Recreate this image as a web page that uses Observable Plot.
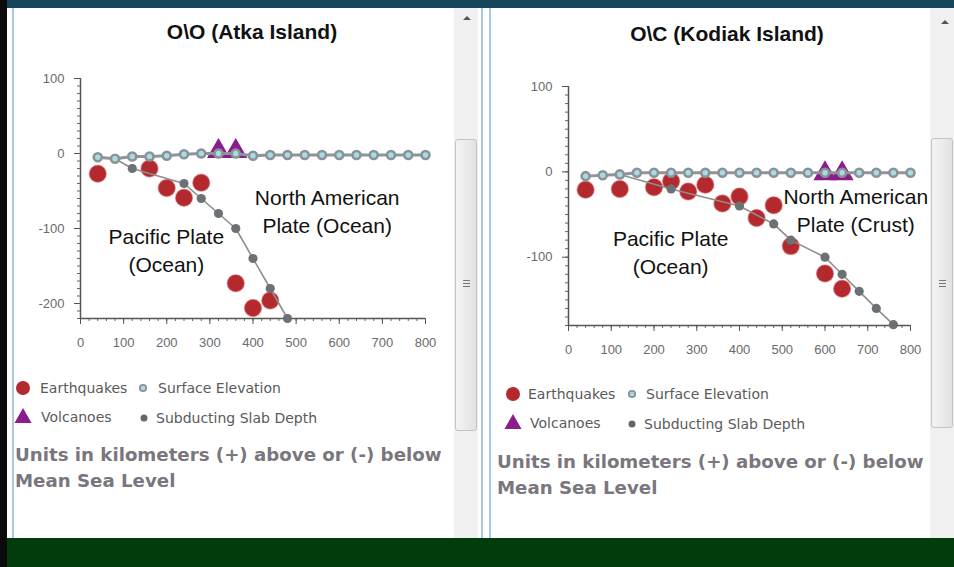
<!DOCTYPE html>
<html><head><meta charset="utf-8">
<script src="https://cdn.jsdelivr.net/npm/d3@7"></script>
<script src="https://cdn.jsdelivr.net/npm/@observablehq/plot@0.6"></script>
<style>
body{margin:0;width:954px;height:567px;overflow:hidden;position:relative;background:#fff;font-family:"Liberation Sans",Arial,sans-serif;}
.a{position:absolute;}
.title{font-weight:bold;font-size:21px;color:#111;transform:translate(-50%,-50%);white-space:nowrap;}
.leg{font-family:"DejaVu Sans",sans-serif;font-size:14px;color:#5a5a5a;white-space:nowrap;transform:translateY(-50%);}
.foot{font-family:"DejaVu Sans",sans-serif;font-weight:bold;font-size:18.2px;color:#7a767d;white-space:nowrap;line-height:25.5px;}
.thumb{background:linear-gradient(90deg,#f4f4f4,#e2e2e2);border:1px solid #c4c4c4;border-radius:3px;box-sizing:border-box;}
</style></head><body>
<div class="a" style="left:0;top:0;width:954px;height:8px;background:#17465b"></div>
<div class="a" style="left:0;top:0;width:7px;height:567px;background:#0b0b0b"></div>
<div class="a" style="left:12px;top:8px;width:2px;height:530px;background:#a9c8e6"></div>
<div class="a" style="left:454px;top:8px;width:24px;height:530px;background:#f0f0f0"></div>
<div class="a" style="left:481px;top:8px;width:2px;height:530px;background:#a9c8e6"></div>
<div class="a" style="left:489px;top:8px;width:2px;height:530px;background:#a9c8e6"></div>
<div class="a" style="left:930px;top:8px;width:24px;height:530px;background:#f0f0f0"></div>
<div class="a thumb" style="left:455px;top:139px;width:22px;height:292px"></div>
<div class="a thumb" style="left:931px;top:138px;width:22px;height:290px"></div>
<div class="a" style="left:463px;top:280px;width:7px;height:1px;background:#777;box-shadow:0 3px 0 #777,0 6px 0 #777"></div>
<div class="a" style="left:939px;top:280px;width:7px;height:1px;background:#777;box-shadow:0 3px 0 #777,0 6px 0 #777"></div>
<svg class="a" style="left:460px;top:14px" width="14" height="8"><path d="M3,6 L7,2 L11,6Z" fill="#555"/></svg>
<svg class="a" style="left:938px;top:18px" width="14" height="8"><path d="M3,6 L7,2 L11,6Z" fill="#555"/></svg>
<div class="a" style="left:7px;top:538px;width:947px;height:29px;background:#023b0c"></div>

<div class="a title" style="left:252px;top:32px">O\O (Atka Island)</div>
<div class="a title" style="left:727px;top:34px">O\C (Kodiak Island)</div>

<div id="c1" class="a" style="left:20px;top:60px"></div>
<div id="c2" class="a" style="left:500px;top:60px"></div>

<!-- legends -->
<svg class="a" style="left:14px;top:378px" width="160" height="50">
  <circle cx="9" cy="10" r="7" fill="#b3292e"/>
  <circle cx="129" cy="10" r="3.2" fill="#a8dbe6" stroke="#8b9296" stroke-width="1.8"/>
  <path d="M9,30 L17.5,45 L0.5,45Z" fill="#8b1c8c"/>
  <circle cx="130" cy="40" r="3.5" fill="#666"/>
</svg>
<div class="a leg" style="left:40px;top:388px">Earthquakes</div>
<div class="a leg" style="left:158px;top:388px">Surface Elevation</div>
<div class="a leg" style="left:41px;top:417px">Volcanoes</div>
<div class="a leg" style="left:156px;top:418px">Subducting Slab Depth</div>

<svg class="a" style="left:504px;top:384px" width="160" height="50">
  <circle cx="9" cy="10" r="7" fill="#b3292e"/>
  <circle cx="128" cy="10" r="3.2" fill="#a8dbe6" stroke="#8b9296" stroke-width="1.8"/>
  <path d="M9,30 L17.5,45 L0.5,45Z" fill="#8b1c8c"/>
  <circle cx="128" cy="40" r="3.5" fill="#666"/>
</svg>
<div class="a leg" style="left:528px;top:394px">Earthquakes</div>
<div class="a leg" style="left:646px;top:394px">Surface Elevation</div>
<div class="a leg" style="left:530px;top:423px">Volcanoes</div>
<div class="a leg" style="left:644px;top:424px">Subducting Slab Depth</div>

<div class="a foot" style="left:15px;top:442px">Units in kilometers (+) above or (-) below<br>Mean Sea Level</div>
<div class="a foot" style="left:497px;top:449px">Units in kilometers (+) above or (-) below<br>Mean Sea Level</div>

<script>
// ---- Atka Island (O\O) ----
const atkaSurfaceKm   = [40,80,120,160,200,240,280,320,360,400,440,480,520,560,600,640,680,720,760,800];
const atkaSurfaceElev = [-5,-7,-4,-4,-3,-1,0,0,0,-3,-2,-2,-2,-2,-2,-2,-2,-2,-2,-2];
const atkaSlabKm      = [80,120,240,280,320,360,400,440,480];
const atkaSlabDepth   = [-7,-20,-40,-60,-80,-100,-140,-180,-220];
const atkaQuakeKm     = [40,160,200,240,280,360,400,440];
const atkaQuakeDepth  = [-27,-20,-46,-59,-39,-173,-206,-196];
const atkaVolcanoKm   = [320,360];
const atkaVolcanoElev = [3,3];

// ---- Kodiak Island (O\C) ----
const kodiakSurfaceKm   = [40,80,120,160,200,240,280,320,360,400,440,480,520,560,600,640,680,720,760,800];
const kodiakSurfaceElev = [-5,-4,-3,-1,-1,-1,-1,-1,-1,-1,-1,-1,-1,-1,-1,-1,-1,-1,-1,-1];
const kodiakSlabKm      = [120,240,400,480,520,600,640,680,720,760];
const kodiakSlabDepth   = [-3,-20,-40,-61,-80,-100,-120,-140,-160,-179];
const kodiakQuakeKm     = [40,120,200,240,280,320,360,400,440,480,520,600,640];
const kodiakQuakeDepth  = [-21,-20,-18,-11,-23,-15,-37,-29,-54,-39,-87,-119,-137];
const kodiakVolcanoKm   = [600,640];
const kodiakVolcanoElev = [-2,-2];

// ---- ticks ----
const xTicks = [0,100,200,300,400,500,600,700,800];
const atkaYTicks = [-200,-100,0,100];
const kodiakYTicks = [-100,0,100];

const pts = (xs, ys) => xs.map((x, i) => ({x, y: ys[i]}));
const plain = d => String(d);

function chart({surface, slab, quakes, volcanoes, yDomain, yTicks, width, height, ml, mr, mt, mb, labels}) {
  const yMinor = d3.range(yDomain[0], yDomain[1] + 1, 10);
  const xMinor = d3.range(0, 801, 20);
  return Plot.plot({
    width, height,
    marginLeft: ml, marginRight: mr, marginTop: mt, marginBottom: mb,
    x: {domain: [0, 800], label: null},
    y: {domain: yDomain, label: null},
    style: {background: "transparent", overflow: "visible", fontFamily: "Liberation Sans, Arial, sans-serif"},
    marks: [
      Plot.axisY({ticks: yMinor, tickSize: 3, tickFormat: () => "", stroke: "#666", label: null}),
      Plot.axisY({ticks: yTicks, tickSize: 6, tickPadding: 10, tickFormat: plain, fontSize: 13, fill: "#6a6a6a", stroke: "#555", label: null}),
      Plot.axisX({ticks: xMinor, tickSize: 3, tickFormat: () => "", stroke: "#666", label: null}),
      Plot.axisX({ticks: xTicks, tickSize: 6, tickPadding: 13, tickFormat: plain, fontSize: 13, fill: "#6a6a6a", stroke: "#555", label: null}),
      Plot.ruleX([0], {y1: yDomain[0], y2: yDomain[1], stroke: "#555", strokeWidth: 1.5}),
      Plot.ruleY([yDomain[0]], {x1: 0, x2: 800, stroke: "#555", strokeWidth: 1.5}),
      ...labels.map(l => Plot.text([l.t], {x: l.x, y: l.y, text: d => d, fontSize: 21, lineHeight: 1.33, fill: "#111"})),
      Plot.dot(quakes, {x: "x", y: "y", r: 8.5, fill: "#b3292e", stroke: "#c9585b", strokeOpacity: 0.45, strokeWidth: 1.5}),
      Plot.line(slab, {x: "x", y: "y", stroke: "#8e8e8e", strokeWidth: 1.6}),
      Plot.dot(slab.slice(1), {x: "x", y: "y", r: 4.6, fill: "#6b7175"}),
      Plot.dot(volcanoes, {x: "x", y: "y", symbol: "triangle", r: 8.6, fill: "#8b1c8c"}),
      Plot.line(surface, {x: "x", y: "y", stroke: "#8e9499", strokeWidth: 3}),
      Plot.dot(surface, {x: "x", y: "y", r: 4, fill: "#a8dbe6", stroke: "#8b9296", strokeWidth: 2.6})
    ]
  });
}

document.getElementById("c1").append(chart({
  surface: pts(atkaSurfaceKm, atkaSurfaceElev),
  slab: pts(atkaSlabKm, atkaSlabDepth),
  quakes: pts(atkaQuakeKm, atkaQuakeDepth),
  volcanoes: pts(atkaVolcanoKm, atkaVolcanoElev),
  yDomain: [-220, 100], yTicks: atkaYTicks,
  width: 430, height: 300, ml: 60, mr: 25, mt: 18, mb: 42,
  labels: [
    {t: "North American\nPlate (Ocean)", x: 572, y: -76},
    {t: "Pacific Plate\n(Ocean)", x: 199, y: -128}
  ]
}));

document.getElementById("c2").append(chart({
  surface: pts(kodiakSurfaceKm, kodiakSurfaceElev),
  slab: pts(kodiakSlabKm, kodiakSlabDepth),
  quakes: pts(kodiakQuakeKm, kodiakQuakeDepth),
  volcanoes: pts(kodiakVolcanoKm, kodiakVolcanoElev),
  yDomain: [-180, 100], yTicks: kodiakYTicks,
  width: 432, height: 300, ml: 68, mr: 22, mt: 26, mb: 35,
  labels: [
    {t: "North American\nPlate (Crust)", x: 672, y: -44},
    {t: "Pacific Plate\n(Ocean)", x: 239, y: -93}
  ]
}));
</script>
</body></html>
